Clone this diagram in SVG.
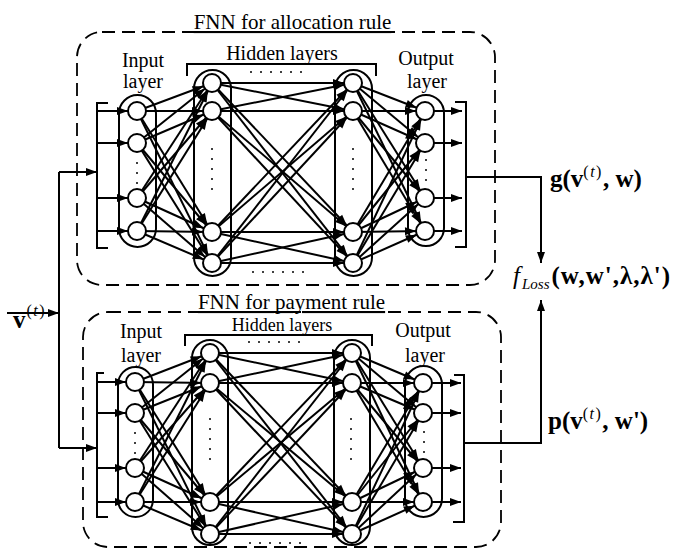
<svg xmlns="http://www.w3.org/2000/svg" width="673" height="550" viewBox="0 0 673 550">
<style>
.frame{fill:none;stroke:#000;stroke-width:1.8;stroke-dasharray:13 7}
.cap{fill:none;stroke:#000;stroke-width:2}
.br{fill:none;stroke:#000;stroke-width:2}
.c{stroke:#000;stroke-width:2;marker-end:url(#ah)}
.o{fill:none;stroke:#000;stroke-width:2;marker-end:url(#ae)}
.n{fill:#fff;stroke:#000;stroke-width:2}
.d{fill:#000}
text{font-family:"Liberation Serif","Times New Roman",serif;fill:#000}
.lbl{font-size:20px;text-anchor:middle}
.ttl{font-size:21px;text-anchor:middle;text-decoration:underline}
.m{font-size:25px;font-weight:bold}
.sup{font-size:16px;font-weight:normal;letter-spacing:1.5px}
</style>
<defs>
<marker id="ah" markerUnits="userSpaceOnUse" markerWidth="12" markerHeight="8" refX="20" refY="4" orient="auto" overflow="visible"><path d="M0,0 L11,4 L0,8 z" fill="#000"/></marker>
<marker id="ae" markerUnits="userSpaceOnUse" markerWidth="12" markerHeight="8" refX="11" refY="4" orient="auto" overflow="visible"><path d="M0,0 L11,4 L0,8 z" fill="#000"/></marker>
</defs>

<g id="frames">
<rect class="frame" x="77" y="32" width="418" height="253" rx="25"/>
<rect class="frame" x="83" y="312" width="418" height="235" rx="25"/>
</g>

<g id="capsules">
<rect class="cap" x="119" y="95" width="37" height="152" rx="18.5"/>
<rect class="cap" x="194" y="70" width="37" height="206" rx="18.5"/>
<rect class="cap" x="335" y="70" width="37" height="206" rx="18.5"/>
<rect class="cap" x="408" y="95" width="36" height="151" rx="18"/>
<rect class="cap" x="118" y="367" width="35" height="150" rx="17.5"/>
<rect class="cap" x="192" y="340" width="36" height="205" rx="18"/>
<rect class="cap" x="334" y="340" width="36" height="205" rx="18"/>
<rect class="cap" x="405" y="366" width="37" height="151" rx="18.5"/>
</g>

<g id="brackets">
<path class="br" d="M108,103 H97 V248 H108"/>
<path class="br" d="M455,102 H466 V247 H455"/>
<path class="br" d="M187,76 V64 H376 V76"/>
<path class="br" d="M104,373 H97 V517 H108"/>
<path class="br" d="M454,375 H464 V522 H453"/>
<path class="br" d="M185,346 V335 H372 V346"/>
</g>

<g id="connectors">
<line class="c" x1="137" y1="111" x2="212" y2="83"/><line class="c" x1="137" y1="111" x2="212" y2="111"/><line class="c" x1="137" y1="111" x2="212" y2="232"/><line class="c" x1="137" y1="111" x2="212" y2="263"/>
<line class="c" x1="137" y1="143" x2="212" y2="83"/><line class="c" x1="137" y1="143" x2="212" y2="111"/><line class="c" x1="137" y1="143" x2="212" y2="232"/><line class="c" x1="137" y1="143" x2="212" y2="263"/>
<line class="c" x1="137" y1="198" x2="212" y2="83"/><line class="c" x1="137" y1="198" x2="212" y2="111"/><line class="c" x1="137" y1="198" x2="212" y2="232"/><line class="c" x1="137" y1="198" x2="212" y2="263"/>
<line class="c" x1="137" y1="231" x2="212" y2="83"/><line class="c" x1="137" y1="231" x2="212" y2="111"/><line class="c" x1="137" y1="231" x2="212" y2="232"/><line class="c" x1="137" y1="231" x2="212" y2="263"/>
<line class="c" x1="212" y1="83" x2="353" y2="83"/><line class="c" x1="212" y1="83" x2="353" y2="111"/><line class="c" x1="212" y1="83" x2="353" y2="232"/><line class="c" x1="212" y1="83" x2="353" y2="263"/>
<line class="c" x1="212" y1="111" x2="353" y2="83"/><line class="c" x1="212" y1="111" x2="353" y2="111"/><line class="c" x1="212" y1="111" x2="353" y2="232"/><line class="c" x1="212" y1="111" x2="353" y2="263"/>
<line class="c" x1="212" y1="232" x2="353" y2="83"/><line class="c" x1="212" y1="232" x2="353" y2="111"/><line class="c" x1="212" y1="232" x2="353" y2="232"/><line class="c" x1="212" y1="232" x2="353" y2="263"/>
<line class="c" x1="212" y1="263" x2="353" y2="83"/><line class="c" x1="212" y1="263" x2="353" y2="111"/><line class="c" x1="212" y1="263" x2="353" y2="232"/><line class="c" x1="212" y1="263" x2="353" y2="263"/>
<line class="c" x1="353" y1="83" x2="425" y2="111"/><line class="c" x1="353" y1="83" x2="425" y2="143"/><line class="c" x1="353" y1="83" x2="425" y2="198"/><line class="c" x1="353" y1="83" x2="425" y2="231"/>
<line class="c" x1="353" y1="111" x2="425" y2="111"/><line class="c" x1="353" y1="111" x2="425" y2="143"/><line class="c" x1="353" y1="111" x2="425" y2="198"/><line class="c" x1="353" y1="111" x2="425" y2="231"/>
<line class="c" x1="353" y1="232" x2="425" y2="111"/><line class="c" x1="353" y1="232" x2="425" y2="143"/><line class="c" x1="353" y1="232" x2="425" y2="198"/><line class="c" x1="353" y1="232" x2="425" y2="231"/>
<line class="c" x1="353" y1="263" x2="425" y2="111"/><line class="c" x1="353" y1="263" x2="425" y2="143"/><line class="c" x1="353" y1="263" x2="425" y2="198"/><line class="c" x1="353" y1="263" x2="425" y2="231"/>
<line class="c" x1="97" y1="111" x2="137" y2="111"/><line class="c" x1="97" y1="143" x2="137" y2="143"/><line class="c" x1="97" y1="198" x2="137" y2="198"/><line class="c" x1="97" y1="231" x2="137" y2="231"/>
<line class="o" x1="425" y1="111" x2="462" y2="111"/><line class="o" x1="425" y1="143" x2="462" y2="143"/><line class="o" x1="425" y1="198" x2="462" y2="198"/><line class="o" x1="425" y1="231" x2="462" y2="231"/>

<line class="c" x1="135" y1="382" x2="210" y2="353"/><line class="c" x1="135" y1="382" x2="210" y2="383"/><line class="c" x1="135" y1="382" x2="210" y2="502"/><line class="c" x1="135" y1="382" x2="210" y2="534"/>
<line class="c" x1="135" y1="413" x2="210" y2="353"/><line class="c" x1="135" y1="413" x2="210" y2="383"/><line class="c" x1="135" y1="413" x2="210" y2="502"/><line class="c" x1="135" y1="413" x2="210" y2="534"/>
<line class="c" x1="135" y1="468" x2="210" y2="353"/><line class="c" x1="135" y1="468" x2="210" y2="383"/><line class="c" x1="135" y1="468" x2="210" y2="502"/><line class="c" x1="135" y1="468" x2="210" y2="534"/>
<line class="c" x1="135" y1="502" x2="210" y2="353"/><line class="c" x1="135" y1="502" x2="210" y2="383"/><line class="c" x1="135" y1="502" x2="210" y2="502"/><line class="c" x1="135" y1="502" x2="210" y2="534"/>
<line class="c" x1="210" y1="353" x2="352" y2="353"/><line class="c" x1="210" y1="353" x2="352" y2="383"/><line class="c" x1="210" y1="353" x2="352" y2="502"/><line class="c" x1="210" y1="353" x2="352" y2="534"/>
<line class="c" x1="210" y1="383" x2="352" y2="353"/><line class="c" x1="210" y1="383" x2="352" y2="383"/><line class="c" x1="210" y1="383" x2="352" y2="502"/><line class="c" x1="210" y1="383" x2="352" y2="534"/>
<line class="c" x1="210" y1="502" x2="352" y2="353"/><line class="c" x1="210" y1="502" x2="352" y2="383"/><line class="c" x1="210" y1="502" x2="352" y2="502"/><line class="c" x1="210" y1="502" x2="352" y2="534"/>
<line class="c" x1="210" y1="534" x2="352" y2="353"/><line class="c" x1="210" y1="534" x2="352" y2="383"/><line class="c" x1="210" y1="534" x2="352" y2="502"/><line class="c" x1="210" y1="534" x2="352" y2="534"/>
<line class="c" x1="352" y1="353" x2="423" y2="383"/><line class="c" x1="352" y1="353" x2="423" y2="413"/><line class="c" x1="352" y1="353" x2="423" y2="468"/><line class="c" x1="352" y1="353" x2="423" y2="502"/>
<line class="c" x1="352" y1="383" x2="423" y2="383"/><line class="c" x1="352" y1="383" x2="423" y2="413"/><line class="c" x1="352" y1="383" x2="423" y2="468"/><line class="c" x1="352" y1="383" x2="423" y2="502"/>
<line class="c" x1="352" y1="502" x2="423" y2="383"/><line class="c" x1="352" y1="502" x2="423" y2="413"/><line class="c" x1="352" y1="502" x2="423" y2="468"/><line class="c" x1="352" y1="502" x2="423" y2="502"/>
<line class="c" x1="352" y1="534" x2="423" y2="383"/><line class="c" x1="352" y1="534" x2="423" y2="413"/><line class="c" x1="352" y1="534" x2="423" y2="468"/><line class="c" x1="352" y1="534" x2="423" y2="502"/>
<line class="c" x1="97" y1="382" x2="135" y2="382"/><line class="c" x1="97" y1="413" x2="135" y2="413"/><line class="c" x1="97" y1="468" x2="135" y2="468"/><line class="c" x1="97" y1="502" x2="135" y2="502"/>
<line class="o" x1="423" y1="383" x2="461" y2="383"/><line class="o" x1="423" y1="413" x2="461" y2="413"/><line class="o" x1="423" y1="468" x2="461" y2="468"/><line class="o" x1="423" y1="502" x2="461" y2="502"/>

<line class="o" x1="7" y1="313" x2="59" y2="313"/>
<line class="br" x1="59" y1="172" x2="59" y2="448"/>
<line class="o" x1="59" y1="172" x2="97" y2="172"/>
<line class="o" x1="59" y1="448" x2="97" y2="448"/>
<path class="o" d="M466,177 H541 V263"/>
<path class="o" d="M464,443 H541 V300"/>
</g>

<g id="top-input-layer">
<circle class="n" cx="137" cy="111" r="9"/><circle class="n" cx="137" cy="143" r="9"/><circle class="n" cx="137" cy="198" r="9"/><circle class="n" cx="137" cy="231" r="9"/>
<circle class="d" cx="137" cy="163" r="1"/><circle class="d" cx="137" cy="173" r="1"/><circle class="d" cx="137" cy="183" r="1"/>
</g>
<g id="top-hidden-1">
<circle class="n" cx="212" cy="83" r="9"/><circle class="n" cx="212" cy="111" r="9"/><circle class="n" cx="212" cy="232" r="9"/><circle class="n" cx="212" cy="263" r="9"/>
<circle class="d" cx="212" cy="149" r="1"/><circle class="d" cx="212" cy="159" r="1"/><circle class="d" cx="212" cy="169" r="1"/><circle class="d" cx="212" cy="179" r="1"/><circle class="d" cx="212" cy="189" r="1"/>
</g>
<g id="top-hidden-2">
<circle class="n" cx="353" cy="83" r="9"/><circle class="n" cx="353" cy="111" r="9"/><circle class="n" cx="353" cy="232" r="9"/><circle class="n" cx="353" cy="263" r="9"/>
<circle class="d" cx="353" cy="149" r="1"/><circle class="d" cx="353" cy="159" r="1"/><circle class="d" cx="353" cy="169" r="1"/><circle class="d" cx="353" cy="179" r="1"/><circle class="d" cx="353" cy="189" r="1"/>
</g>
<g id="top-output-layer">
<circle class="n" cx="425" cy="111" r="9"/><circle class="n" cx="425" cy="143" r="9"/><circle class="n" cx="425" cy="198" r="9"/><circle class="n" cx="425" cy="231" r="9"/>
<circle class="d" cx="426" cy="160" r="1"/><circle class="d" cx="426" cy="170" r="1"/><circle class="d" cx="426" cy="180" r="1"/>
</g>
<g id="top-dots">
<circle class="d" cx="251" cy="72" r="1"/><circle class="d" cx="261" cy="72" r="1"/><circle class="d" cx="271" cy="72" r="1"/><circle class="d" cx="281" cy="72" r="1"/><circle class="d" cx="291" cy="72" r="1"/><circle class="d" cx="301" cy="72" r="1"/>
<circle class="d" cx="253" cy="272" r="1"/><circle class="d" cx="263" cy="272" r="1"/><circle class="d" cx="273" cy="272" r="1"/><circle class="d" cx="283" cy="272" r="1"/><circle class="d" cx="293" cy="272" r="1"/><circle class="d" cx="303" cy="272" r="1"/>
</g>

<g id="bottom-input-layer">
<circle class="n" cx="135" cy="382" r="9"/><circle class="n" cx="135" cy="413" r="9"/><circle class="n" cx="135" cy="468" r="9"/><circle class="n" cx="135" cy="502" r="9"/>
<circle class="d" cx="135" cy="433" r="1"/><circle class="d" cx="135" cy="443" r="1"/><circle class="d" cx="135" cy="453" r="1"/>
</g>
<g id="bottom-hidden-1">
<circle class="n" cx="210" cy="353" r="9"/><circle class="n" cx="210" cy="383" r="9"/><circle class="n" cx="210" cy="502" r="9"/><circle class="n" cx="210" cy="534" r="9"/>
<circle class="d" cx="210" cy="419" r="1"/><circle class="d" cx="210" cy="429" r="1"/><circle class="d" cx="210" cy="439" r="1"/><circle class="d" cx="210" cy="449" r="1"/><circle class="d" cx="210" cy="459" r="1"/>
</g>
<g id="bottom-hidden-2">
<circle class="n" cx="352" cy="353" r="9"/><circle class="n" cx="352" cy="383" r="9"/><circle class="n" cx="352" cy="502" r="9"/><circle class="n" cx="352" cy="534" r="9"/>
<circle class="d" cx="351" cy="419" r="1"/><circle class="d" cx="351" cy="429" r="1"/><circle class="d" cx="351" cy="439" r="1"/><circle class="d" cx="351" cy="449" r="1"/><circle class="d" cx="351" cy="459" r="1"/>
</g>
<g id="bottom-output-layer">
<circle class="n" cx="423" cy="383" r="9"/><circle class="n" cx="423" cy="413" r="9"/><circle class="n" cx="423" cy="468" r="9"/><circle class="n" cx="423" cy="502" r="9"/>
<circle class="d" cx="424" cy="432" r="1"/><circle class="d" cx="424" cy="442" r="1"/><circle class="d" cx="424" cy="452" r="1"/>
</g>
<g id="bottom-dots">
<circle class="d" cx="249" cy="342" r="1"/><circle class="d" cx="259" cy="342" r="1"/><circle class="d" cx="269" cy="342" r="1"/><circle class="d" cx="279" cy="342" r="1"/><circle class="d" cx="289" cy="342" r="1"/><circle class="d" cx="299" cy="342" r="1"/>
<circle class="d" cx="250" cy="543" r="1"/><circle class="d" cx="260" cy="543" r="1"/><circle class="d" cx="270" cy="543" r="1"/><circle class="d" cx="280" cy="543" r="1"/><circle class="d" cx="290" cy="543" r="1"/><circle class="d" cx="300" cy="543" r="1"/>
</g>

<g id="labels">
<text class="ttl" x="292.5" y="29">FNN for allocation rule</text>
<text class="lbl" x="143" y="67">Input</text>
<text class="lbl" x="143" y="88">layer</text>
<text class="lbl" x="282" y="60">Hidden layers</text>
<text class="lbl" x="426" y="65">Output</text>
<text class="lbl" x="427" y="88">layer</text>

<text class="ttl" x="291.5" y="309">FNN for payment rule</text>
<text class="lbl" x="141" y="338">Input</text>
<text class="lbl" x="141" y="362">layer</text>
<text class="lbl" x="282" y="331" style="font-size:18px">Hidden layers</text>
<text class="lbl" x="423" y="337">Output</text>
<text class="lbl" x="425" y="362">layer</text>

<text class="m" x="13" y="328">v<tspan class="sup" dx="1" dy="-12">(<tspan font-style="italic">t</tspan>)</tspan></text>
<text class="m" x="550" y="187">g(v<tspan class="sup" dy="-10">(<tspan font-style="italic">t</tspan>)</tspan><tspan dy="10">, w)</tspan></text>
<text x="513" y="284"><tspan font-size="25" font-style="italic">f</tspan><tspan font-size="15" font-style="italic" dx="2" dy="5">Loss</tspan><tspan class="m" dx="2" dy="-5" letter-spacing="1">(w,w',λ,λ')</tspan></text>
<text class="m" x="548" y="429">p(v<tspan class="sup" dy="-10">(<tspan font-style="italic">t</tspan>)</tspan><tspan dy="10">, w')</tspan></text>
</g>
</svg>
